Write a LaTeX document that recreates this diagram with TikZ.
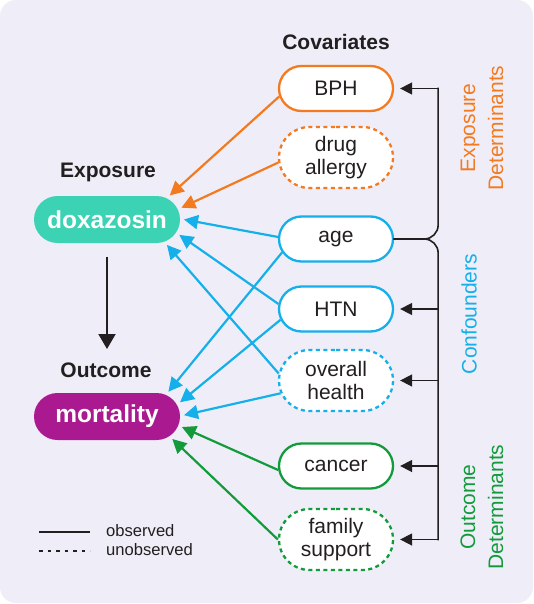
\documentclass[tikz,border=0pt]{standalone}
\usepackage{fontspec}
\setmainfont{Liberation Sans}
\usetikzlibrary{arrows.meta,shapes.misc,calc}

\definecolor{bgpanel}{HTML}{EFEEF8}
\definecolor{expcol}{HTML}{F47A20}
\definecolor{confcol}{HTML}{15AFEA}
\definecolor{outcol}{HTML}{139A3B}
\definecolor{doxacol}{HTML}{3CD3B4}
\definecolor{mortcol}{HTML}{AA1990}
\definecolor{inkcol}{HTML}{231F20}

\tikzset{
  covar/.style={rounded rectangle, draw, line width=2.3pt, fill=white,
    minimum width=114pt, minimum height=45pt, inner sep=0pt, align=center,
    text=inkcol, font=\fontsize{21}{23}\selectfont},
  hidden/.style={dash pattern=on 4pt off 3.5pt},
  mainvar/.style={rounded rectangle, minimum width=146pt, minimum height=47pt,
    inner sep=0pt, outer sep=4pt, text=white,
    font=\bfseries\fontsize{24.5}{28}\selectfont},
  heading/.style={text=inkcol, font=\bfseries\fontsize{21}{24}\selectfont},
  grouplab/.style={rotate=90, align=center, font=\fontsize{21}{28}\selectfont},
  legendlab/.style={anchor=west, inner sep=0pt, text=inkcol,
    font=\fontsize{16.6}{19}\selectfont},
  effect/.style={line width=2.2pt, -{Triangle[length=14pt,width=14pt]}},
  bus/.style={line width=1.6pt, draw=inkcol, line cap=rect},
  busarrow/.style={line width=1.6pt, draw=inkcol, fill=inkcol,
    -{Triangle[length=12pt,width=12pt]}},
}

\begin{document}
\begin{tikzpicture}[x=1pt,y=-1pt]
  \useasboundingbox (0,0) rectangle (533,604);
  \fill[bgpanel, rounded corners=16pt] (0,0) rectangle (533,603);

  % Covariates
  \node[heading] (covtitle) at (336,42) {Covariates};
  \node[covar, draw=expcol] (bph) at (336,88.5) {BPH};
  \node[covar, draw=expcol, hidden, minimum height=61pt] (allergy) at (336,157.5) {drug\\allergy};
  \node[covar, draw=confcol] (age) at (336,239) {age};
  \node[covar, draw=confcol] (htn) at (336,309) {HTN};
  \node[covar, draw=confcol, hidden, minimum height=61pt] (health) at (336,380.5) {overall\\health};
  \node[covar, draw=outcol] (cancer) at (336,466) {cancer};
  \node[covar, draw=outcol, hidden, minimum height=61pt] (family) at (336,539.5) {family\\support};

  % Exposure and outcome
  \node[heading] (explab) at (108,172) {Exposure};
  \node[mainvar, fill=doxacol] (doxa) at (107,219.5) {doxazosin};
  \node[heading] (outlab) at (106,370) {Outcome};
  \node[mainvar, fill=mortcol] (mort) at (107,416.5) {mortality};
  \draw[line width=2pt, inkcol, -{Triangle[length=15pt,width=17pt]},
    shorten <=9.5pt, shorten >=40pt] (doxa.south) -- (mort.north);

  % Arrows into exposure
  \draw[effect, expcol] (bph.188) -- (doxa.21);
  \draw[effect, expcol] (allergy.185) -- (doxa.9);
  \draw[effect, confcol] (age.178) -- (doxa.0);
  \draw[effect, confcol] (htn.175) -- (doxa.-12);
  \draw[effect, confcol] (health.173) -- (doxa.-23);

  % Arrows into outcome
  \draw[effect, confcol] (age.194) -- (mort.22);
  \draw[effect, confcol] (htn.191) -- (mort.11);
  \draw[effect, confcol] (health.193) -- (mort.1);
  \draw[effect, outcol] (cancer.184) -- (mort.-8);
  \draw[effect, outcol] (family.180) -- (mort.-19);

  % Grouping bus
  \coordinate (trunktop) at ($(bph.east)+(44,0)$);
  \coordinate (trunkbot) at ($(family.east)+(44,0)$);
  \draw[bus, rounded corners=14pt] (age.east) -| (trunktop);
  \draw[bus, rounded corners=14pt] (age.east) -| (trunkbot);
  \draw[busarrow] (trunktop) -- ([xshift=6pt]bph.east);
  \foreach \n in {htn,health,cancer}
    \draw[busarrow] (\n.east -| trunktop) -- ([xshift=6pt]\n.east);
  \draw[busarrow] (trunkbot) -- ([xshift=6pt]family.east);

  % Group labels
  \node[grouplab, text=expcol] (expdet) at (482,128) {Exposure\\Determinants};
  \node[grouplab, text=confcol] (confdet) at (469,314) {Confounders};
  \node[grouplab, text=outcol] (outdet) at (482,507) {Outcome\\Determinants};

  % Legend
  \draw[line width=2pt, inkcol] (39,532) -- (90,532);
  \draw[line width=2pt, inkcol, dash pattern=on 3.5pt off 5pt] (39,551) -- (90,551);
  \node[legendlab] (obslab) at (106,531) {observed};
  \node[legendlab] (unobslab) at (106,550) {unobserved};
\end{tikzpicture}
\end{document}
